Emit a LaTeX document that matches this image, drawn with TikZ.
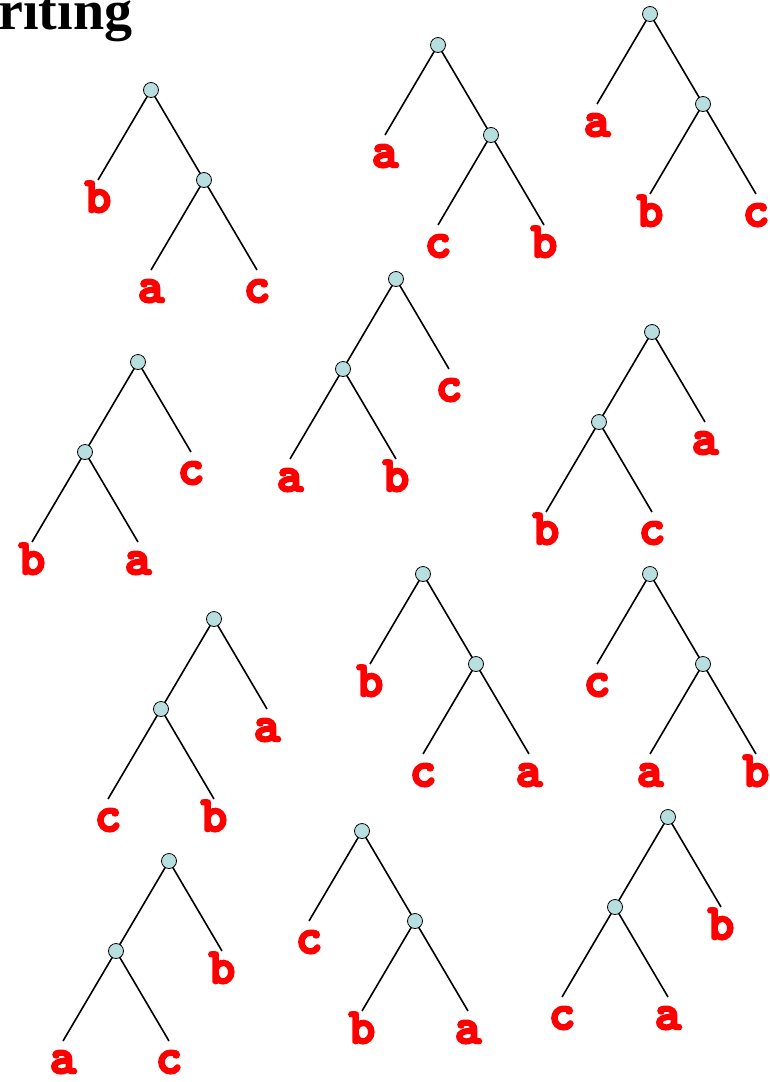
\documentclass[tikz,border=0pt]{standalone}
\usepackage{fontspec}
\setmainfont{Liberation Serif}
\newfontfamily\leaffont{lmmonolt10-bold.otf}[FakeBold=5]
\definecolor{vtxfill}{RGB}{184,223,224}
\begin{document}
\begin{tikzpicture}[x=1pt,y=-1pt,line width=1.6pt,
		vtx/.style={circle,draw=black,line width=0.8pt,fill=vtxfill,minimum size=15pt,inner sep=0pt},
		lbl/.style={anchor=base,inner sep=0pt,yshift=-32pt,text=red,font=\leaffont\fontsize{50}{50}\selectfont}]
			\useasboundingbox (0,0) rectangle (769,1082);
			\node[anchor=base east,inner sep=0pt,font=\bfseries\fontsize{56}{56}\selectfont] (title) at (133,29) {riting};
			% tree 1
			\begin{scope}[shift={(151,90)}]
			\coordinate (t1l) at (-53,90);
			\coordinate (t1m) at (0,180);
			\coordinate (t1n) at (106,180);
			\draw (0,0) coordinate (t1rc) -- (t1l);
			\draw (t1rc) -- (53,90) coordinate (t1ic);
			\draw (t1ic) -- (t1m);
			\draw (t1ic) -- (t1n);
			\node[vtx] (t1r) at (t1rc) {};
			\node[vtx] (t1i) at (t1ic) {};
			\node[lbl] (t1a) at (t1l) {b};
			\node[lbl] (t1b) at (t1m) {a};
			\node[lbl] (t1c) at (t1n) {c};
			\end{scope}
			% tree 2
			\begin{scope}[shift={(438,45)}]
			\coordinate (t2l) at (-53,90);
			\coordinate (t2m) at (0,180);
			\coordinate (t2n) at (106,180);
			\draw (0,0) coordinate (t2rc) -- (t2l);
			\draw (t2rc) -- (53,90) coordinate (t2ic);
			\draw (t2ic) -- (t2m);
			\draw (t2ic) -- (t2n);
			\node[vtx] (t2r) at (t2rc) {};
			\node[vtx] (t2i) at (t2ic) {};
			\node[lbl] (t2a) at (t2l) {a};
			\node[lbl] (t2b) at (t2m) {c};
			\node[lbl] (t2c) at (t2n) {b};
			\end{scope}
			% tree 3
			\begin{scope}[shift={(650,14)}]
			\coordinate (t3l) at (-53,90);
			\coordinate (t3m) at (0,180);
			\coordinate (t3n) at (106,180);
			\draw (0,0) coordinate (t3rc) -- (t3l);
			\draw (t3rc) -- (53,90) coordinate (t3ic);
			\draw (t3ic) -- (t3m);
			\draw (t3ic) -- (t3n);
			\node[vtx] (t3r) at (t3rc) {};
			\node[vtx] (t3i) at (t3ic) {};
			\node[lbl] (t3a) at (t3l) {a};
			\node[lbl] (t3b) at (t3m) {b};
			\node[lbl] (t3c) at (t3n) {c};
			\end{scope}
			% tree 4
			\begin{scope}[shift={(396,279)}]
			\coordinate (t4l) at (-106,180);
			\coordinate (t4m) at (0,180);
			\coordinate (t4n) at (53,90);
			\draw (0,0) coordinate (t4rc) -- (t4n);
			\draw (t4rc) -- (-53,90) coordinate (t4ic);
			\draw (t4ic) -- (t4l);
			\draw (t4ic) -- (t4m);
			\node[vtx] (t4r) at (t4rc) {};
			\node[vtx] (t4i) at (t4ic) {};
			\node[lbl] (t4a) at (t4l) {a};
			\node[lbl] (t4b) at (t4m) {b};
			\node[lbl] (t4c) at (t4n) {c};
			\end{scope}
			% tree 5
			\begin{scope}[shift={(138,362)}]
			\coordinate (t5l) at (-106,180);
			\coordinate (t5m) at (0,180);
			\coordinate (t5n) at (53,90);
			\draw (0,0) coordinate (t5rc) -- (t5n);
			\draw (t5rc) -- (-53,90) coordinate (t5ic);
			\draw (t5ic) -- (t5l);
			\draw (t5ic) -- (t5m);
			\node[vtx] (t5r) at (t5rc) {};
			\node[vtx] (t5i) at (t5ic) {};
			\node[lbl] (t5a) at (t5l) {b};
			\node[lbl] (t5b) at (t5m) {a};
			\node[lbl] (t5c) at (t5n) {c};
			\end{scope}
			% tree 6
			\begin{scope}[shift={(652,332)}]
			\coordinate (t6l) at (-106,180);
			\coordinate (t6m) at (0,180);
			\coordinate (t6n) at (53,90);
			\draw (0,0) coordinate (t6rc) -- (t6n);
			\draw (t6rc) -- (-53,90) coordinate (t6ic);
			\draw (t6ic) -- (t6l);
			\draw (t6ic) -- (t6m);
			\node[vtx] (t6r) at (t6rc) {};
			\node[vtx] (t6i) at (t6ic) {};
			\node[lbl] (t6a) at (t6l) {b};
			\node[lbl] (t6b) at (t6m) {c};
			\node[lbl] (t6c) at (t6n) {a};
			\end{scope}
			% tree 7
			\begin{scope}[shift={(423,574)}]
			\coordinate (t7l) at (-53,90);
			\coordinate (t7m) at (0,180);
			\coordinate (t7n) at (106,180);
			\draw (0,0) coordinate (t7rc) -- (t7l);
			\draw (t7rc) -- (53,90) coordinate (t7ic);
			\draw (t7ic) -- (t7m);
			\draw (t7ic) -- (t7n);
			\node[vtx] (t7r) at (t7rc) {};
			\node[vtx] (t7i) at (t7ic) {};
			\node[lbl] (t7a) at (t7l) {b};
			\node[lbl] (t7b) at (t7m) {c};
			\node[lbl] (t7c) at (t7n) {a};
			\end{scope}
			% tree 8
			\begin{scope}[shift={(650,574)}]
			\coordinate (t8l) at (-53,90);
			\coordinate (t8m) at (0,180);
			\coordinate (t8n) at (106,180);
			\draw (0,0) coordinate (t8rc) -- (t8l);
			\draw (t8rc) -- (53,90) coordinate (t8ic);
			\draw (t8ic) -- (t8m);
			\draw (t8ic) -- (t8n);
			\node[vtx] (t8r) at (t8rc) {};
			\node[vtx] (t8i) at (t8ic) {};
			\node[lbl] (t8a) at (t8l) {c};
			\node[lbl] (t8b) at (t8m) {a};
			\node[lbl] (t8c) at (t8n) {b};
			\end{scope}
			% tree 9
			\begin{scope}[shift={(214,619)}]
			\coordinate (t9l) at (-106,180);
			\coordinate (t9m) at (0,180);
			\coordinate (t9n) at (53,90);
			\draw (0,0) coordinate (t9rc) -- (t9n);
			\draw (t9rc) -- (-53,90) coordinate (t9ic);
			\draw (t9ic) -- (t9l);
			\draw (t9ic) -- (t9m);
			\node[vtx] (t9r) at (t9rc) {};
			\node[vtx] (t9i) at (t9ic) {};
			\node[lbl] (t9a) at (t9l) {c};
			\node[lbl] (t9b) at (t9m) {b};
			\node[lbl] (t9c) at (t9n) {a};
			\end{scope}
			% tree 10
			\begin{scope}[shift={(169,861)}]
			\coordinate (t10l) at (-106,180);
			\coordinate (t10m) at (0,180);
			\coordinate (t10n) at (53,90);
			\draw (0,0) coordinate (t10rc) -- (t10n);
			\draw (t10rc) -- (-53,90) coordinate (t10ic);
			\draw (t10ic) -- (t10l);
			\draw (t10ic) -- (t10m);
			\node[vtx] (t10r) at (t10rc) {};
			\node[vtx] (t10i) at (t10ic) {};
			\node[lbl] (t10a) at (t10l) {a};
			\node[lbl] (t10b) at (t10m) {c};
			\node[lbl] (t10c) at (t10n) {b};
			\end{scope}
			% tree 11
			\begin{scope}[shift={(362,831)}]
			\coordinate (t11l) at (-53,90);
			\coordinate (t11m) at (0,180);
			\coordinate (t11n) at (106,180);
			\draw (0,0) coordinate (t11rc) -- (t11l);
			\draw (t11rc) -- (53,90) coordinate (t11ic);
			\draw (t11ic) -- (t11m);
			\draw (t11ic) -- (t11n);
			\node[vtx] (t11r) at (t11rc) {};
			\node[vtx] (t11i) at (t11ic) {};
			\node[lbl] (t11a) at (t11l) {c};
			\node[lbl] (t11b) at (t11m) {b};
			\node[lbl] (t11c) at (t11n) {a};
			\end{scope}
			% tree 12
			\begin{scope}[shift={(668,817)}]
			\coordinate (t12l) at (-106,180);
			\coordinate (t12m) at (0,180);
			\coordinate (t12n) at (53,90);
			\draw (0,0) coordinate (t12rc) -- (t12n);
			\draw (t12rc) -- (-53,90) coordinate (t12ic);
			\draw (t12ic) -- (t12l);
			\draw (t12ic) -- (t12m);
			\node[vtx] (t12r) at (t12rc) {};
			\node[vtx] (t12i) at (t12ic) {};
			\node[lbl] (t12a) at (t12l) {c};
			\node[lbl] (t12b) at (t12m) {a};
			\node[lbl] (t12c) at (t12n) {b};
			\end{scope}
		\end{tikzpicture}
\end{document}
